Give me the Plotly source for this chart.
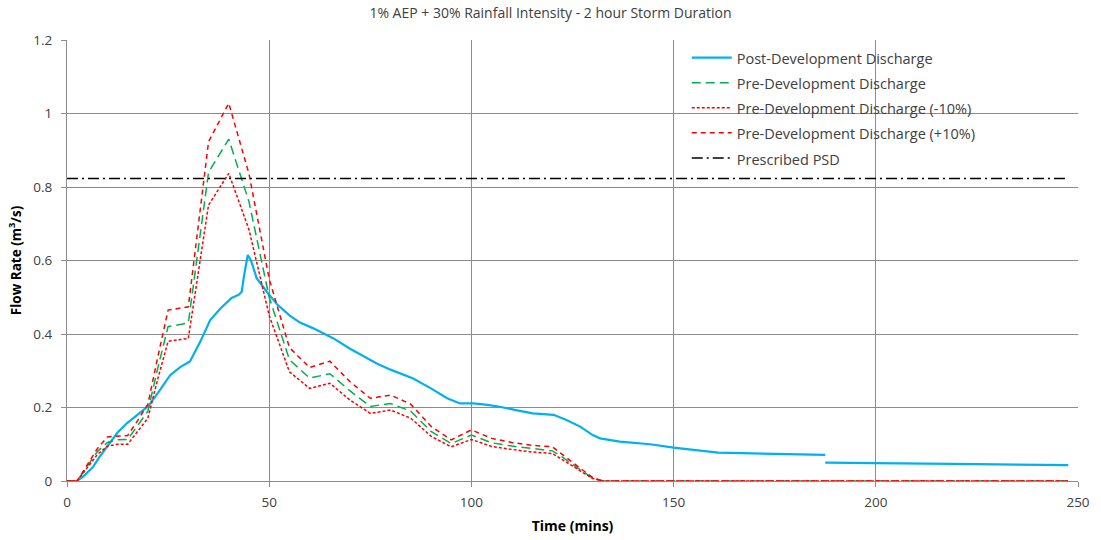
import plotly.graph_objects as go

# Post-development discharge (blue)
post_t = [0, 2.4, 4, 6.5, 8, 10.6, 12.5, 14.8, 17.5, 20.1, 22.5, 25.5, 28, 30.4, 33, 35.4, 38,
          40.7, 42.5, 43.2, 43.8, 44.7, 45.5, 46.9, 49.4, 52, 55.1, 57.6, 60.8, 65.9, 70, 76.6,
          80, 85.6, 90, 94, 97.2, 100.5, 104, 107, 111, 115.2, 120.3, 123.5, 126.9, 130, 131.8,
          136.7, 144.2, 150, 161, 175, 187.5, 187.5, 187.5, 200.2, 225, 247.6]
post_q = [0, 0, 0.012, 0.039, 0.065, 0.103, 0.132, 0.157, 0.18, 0.204, 0.24, 0.288, 0.31, 0.325,
          0.38, 0.438, 0.47, 0.498, 0.507, 0.515, 0.56, 0.615, 0.6, 0.552, 0.515, 0.48, 0.45,
          0.431, 0.416, 0.388, 0.36, 0.32, 0.303, 0.279, 0.252, 0.225, 0.211, 0.211, 0.207,
          0.202, 0.193, 0.184, 0.18, 0.166, 0.148, 0.125, 0.116, 0.107, 0.1, 0.091, 0.077,
          0.074, 0.071, None, 0.05, 0.048, 0.046, 0.043]

# Pre-development discharges
pre_t = [0, 2.5, 5, 7.5, 10, 12.5, 15, 17.5, 20, 22.5, 25, 30, 35, 40, 45, 50, 55, 60, 65, 70,
         75, 80, 85, 90, 95, 100, 105, 110, 115, 120, 122.5, 125, 127.5, 130, 132.5, 247.5]
pre_q = [0, 0, 0.04, 0.08, 0.105, 0.112, 0.113, 0.15, 0.19, 0.31, 0.42, 0.43, 0.84, 0.93, 0.76,
         0.50, 0.33, 0.28, 0.292, 0.245, 0.203, 0.211, 0.19, 0.135, 0.102, 0.125, 0.104, 0.095,
         0.088, 0.082, 0.065, 0.045, 0.026, 0.008, 0, 0]
pre_minus = [0, 0, 0.036, 0.072, 0.095, 0.10, 0.10, 0.135, 0.171, 0.28, 0.38, 0.388, 0.751,
             0.837, 0.684, 0.45, 0.297, 0.252, 0.266, 0.22, 0.184, 0.193, 0.171, 0.122, 0.093,
             0.113, 0.094, 0.086, 0.079, 0.075, 0.059, 0.041, 0.023, 0.007, 0, 0]
pre_plus = [0, 0, 0.044, 0.088, 0.12, 0.123, 0.124, 0.165, 0.209, 0.34, 0.465, 0.474, 0.923,
            1.028, 0.836, 0.55, 0.363, 0.309, 0.326, 0.27, 0.225, 0.234, 0.209, 0.149, 0.112,
            0.139, 0.116, 0.105, 0.097, 0.093, 0.072, 0.05, 0.029, 0.009, 0, 0]

psd_t = [0, 247.5]
psd_q = [0.823, 0.823]

title_text = "1% AEP + 30% Rainfall Intensity - 2 hour Storm Duration"
x_ticks = [0, 50, 100, 150, 200, 250]
y_ticks = [0, 0.2, 0.4, 0.6, 0.8, 1, 1.2]
y_tick_labels = ["0", "0.2", "0.4", "0.6", "0.8", "1", "1.2"]

FONT = "Open Sans"
TXT = "#404040"
GRID = "#8c8c8c"


def leg(name):
    return '<span style="font-size:14.5px">' + name + '</span>'


fig = go.Figure()
fig.add_trace(go.Scatter(x=post_t, y=post_q, mode="lines", name=leg("Post-Development Discharge"),
                         line=dict(color="#00B0F0", width=2.2), connectgaps=False))
fig.add_trace(go.Scatter(x=pre_t, y=pre_q, mode="lines", name=leg("Pre-Development Discharge"),
                         line=dict(color="#00B050", width=1.5, dash="9px,5px")))
fig.add_trace(go.Scatter(x=pre_t, y=pre_minus, mode="lines",
                         name=leg("Pre-Development Discharge (-10%)"),
                         line=dict(color="#FF0000", width=1.5, dash="3px,2px")))
fig.add_trace(go.Scatter(x=pre_t, y=pre_plus, mode="lines",
                         name=leg("Pre-Development Discharge (+10%)"),
                         line=dict(color="#FF0000", width=1.5, dash="5px,4px")))
fig.add_trace(go.Scatter(x=psd_t, y=psd_q, mode="lines", name=leg("Prescribed PSD"),
                         line=dict(color="#000000", width=1.5, dash="11px,4px,2px,4px")))

fig.update_layout(
    width=1101, height=540,
    margin=dict(l=67, r=23, t=40, b=59),
    paper_bgcolor="white", plot_bgcolor="white",
    font=dict(family=FONT, size=13, color=TXT),
    title=dict(text=title_text, x=0.5, xanchor="center", y=0.975, yanchor="middle",
               font=dict(family=FONT, size=14, color=TXT)),
    showlegend=True,
    legend=dict(x=0.613, y=1.0, xanchor="left", yanchor="top",
                bgcolor="rgba(0,0,0,0)", borderwidth=0,
                font=dict(family=FONT, size=17, color=TXT),
                tracegroupgap=0, itemwidth=40),
    xaxis=dict(range=[0, 250], tickvals=x_ticks, showgrid=True, gridcolor=GRID, gridwidth=1,
               showline=True, linecolor=GRID, linewidth=1, ticks="outside", ticklen=5,
               tickcolor=GRID, zeroline=False, mirror=False, ticklabelstandoff=4,
               automargin=False,
               title=dict(text="<b>Time (mins)</b>", font=dict(family=FONT, size=14, color="#000000"),
                          standoff=10),
               tickfont=dict(family=FONT, size=13.5, color=TXT)),
    yaxis=dict(range=[0, 1.2], tickvals=y_ticks, ticktext=y_tick_labels, showgrid=True,
               gridcolor=GRID, gridwidth=1, showline=True, linecolor=GRID, linewidth=1,
               ticks="outside", ticklen=5, tickcolor=GRID, zeroline=False, ticklabelstandoff=6,
               automargin=False,
               title=dict(text="<b>Flow Rate (m<sup>3</sup>/s)</b>",
                          font=dict(family=FONT, size=13.5, color="#000000"), standoff=8),
               tickfont=dict(family=FONT, size=13.5, color=TXT)),
)
fig.write_html("out.html")
